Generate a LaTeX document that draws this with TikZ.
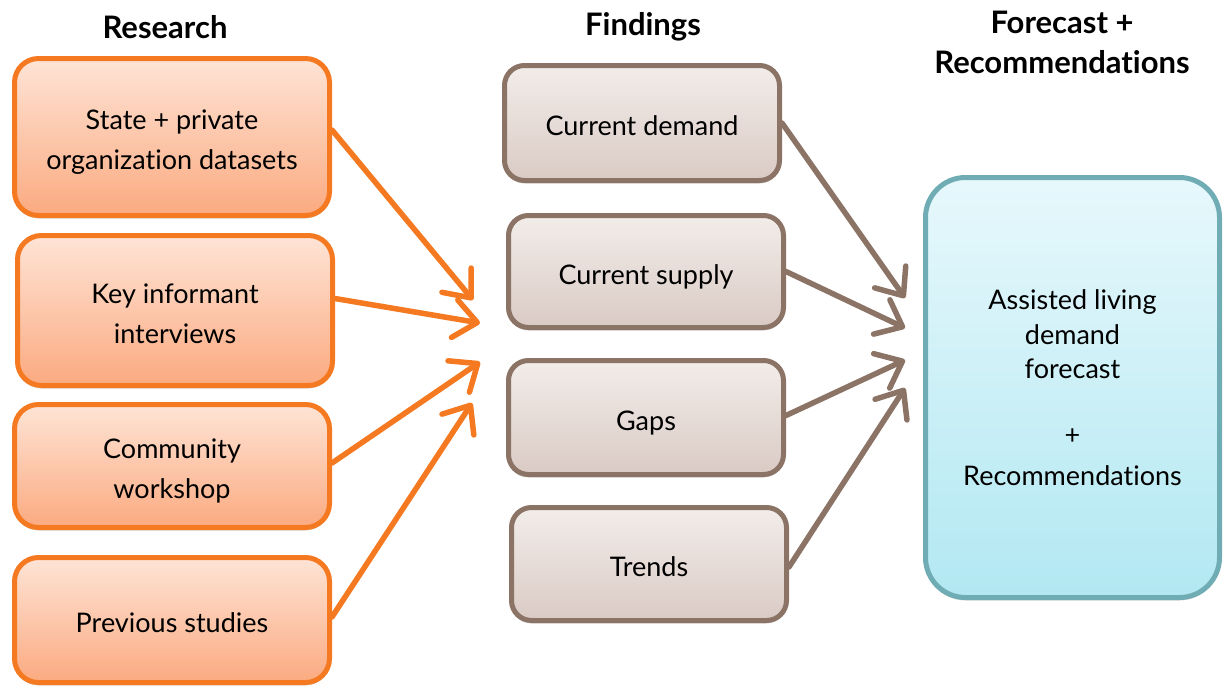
\documentclass[tikz,border=0pt]{standalone}
\usepackage{fontspec}
\setmainfont[Ligatures={NoCommon,NoContextual}]{Lato}
\usetikzlibrary{arrows.meta,shadows}

\definecolor{orangeline}{RGB}{244,121,32}
\definecolor{orangetop}{RGB}{254,228,214}
\definecolor{orangebot}{RGB}{251,170,128}
\definecolor{brownline}{RGB}{139,115,102}
\definecolor{browntop}{RGB}{242,237,234}
\definecolor{brownbot}{RGB}{218,202,196}
\definecolor{blueline}{RGB}{111,172,180}
\definecolor{bluetop}{RGB}{231,248,252}
\definecolor{bluebot}{RGB}{178,232,242}

\tikzset{
  box/.style={rectangle, line width=5pt, align=center, inner sep=0pt,
    font=\fontsize{27}{40}\selectfont,
    drop shadow={shadow xshift=0pt, shadow yshift=-3pt, opacity=0.22, fill=black!70}},
  % single-line and two-line text sit a little below the box centre
  lowtext/.style={text height=25pt, text depth=0pt},
  lowtexttwo/.style={text height=65pt, text depth=0pt},
  researchbox/.style={box, draw=orangeline, top color=orangetop, bottom color=orangebot,
    rounded corners=24pt, minimum width=315pt},
  findingbox/.style={box, lowtext, draw=brownline, top color=browntop, bottom color=brownbot,
    rounded corners=20pt, minimum width=275pt},
  resultbox/.style={box, draw=blueline, top color=bluetop, bottom color=bluebot,
    rounded corners=40pt, minimum width=294pt, minimum height=420pt},
  heading/.style={font=\fontsize{31}{40}\selectfont\bfseries, align=center},
  feed/.style={line width=5.5pt, line cap=round,
    -{Straight Barb[round, length=23pt, width=38pt]}},
  orangearrow/.style={feed, draw=orangeline},
  brownarrow/.style={feed, draw=brownline}
}

\begin{document}
\begin{tikzpicture}[x=1pt, y=-1pt]
\useasboundingbox (0,0) rectangle (1224,686);

% column headings
\node[heading] (hresearch) at (165,27) {Research};
\node[heading] (hfindings) at (643,27) {Findings};
\node[heading] (hforecast) at (1062,42) {Forecast +\\Recommendations};

% research inputs
\node[researchbox, lowtexttwo, minimum height=157pt] (o1) at (172,137) {State + private\\organization datasets};
\node[researchbox, lowtexttwo, minimum height=150pt] (o2) at (175,310.5) {Key informant\\interviews};
\node[researchbox, lowtexttwo, minimum height=123pt] (o3) at (172,466) {Community\\workshop};
\node[researchbox, lowtext, minimum height=125pt] (o4) at (172,620) {Previous studies};

% findings
\node[findingbox, minimum height=115pt] (b1) at (642,123) {Current demand};
\node[findingbox, minimum height=112pt] (b2) at (646,271.5) {Current supply};
\node[findingbox, minimum height=114pt] (b3) at (646,417.5) {Gaps};
\node[findingbox, minimum height=113pt] (b4) at (649,564) {Trends};

% forecast and recommendations
\node[resultbox] (res) at (1072.5,387.5) {Assisted living\\[-5pt] demand\\[-6pt] forecast\\[26pt] +\\[1pt] Recommendations};

% arrow tips of the research arrows
\coordinate (ot1) at (473,300);
\coordinate (ot2) at (480,323);
\coordinate (ot3) at (480,362);
\coordinate (ot4) at (472,403);

% arrow tips of the findings arrows
\coordinate (bt1) at (905,298);
\coordinate (bt2) at (905,328);
\coordinate (bt3) at (905,360);
\coordinate (bt4) at (905,388);

\draw[orangearrow] ([yshift=7pt]o1.east) -- (ot1);
\draw[orangearrow] ([yshift=12pt]o2.east) -- (ot2);
\draw[orangearrow] ([yshift=3pt]o3.east) -- (ot3);
\draw[orangearrow] ([yshift=3pt]o4.east) -- (ot4);

\draw[brownarrow] (b1.east) -- (bt1);
\draw[brownarrow] (b2.east) -- (bt2);
\draw[brownarrow] ([yshift=2pt]b3.east) -- (bt3);
\draw[brownarrow] ([yshift=-3pt]b4.east) -- (bt4);
\end{tikzpicture}
\end{document}
